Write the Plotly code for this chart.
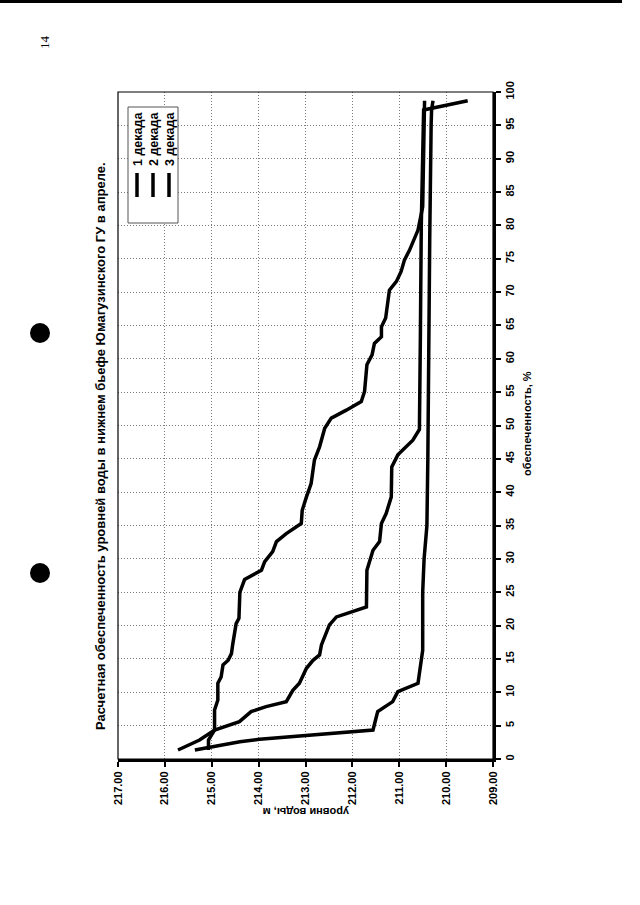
import plotly.graph_objects as go

# ---- data ----
series_names = ["1 декада", "2 декада", "3 декада"]

p_dek1 = [1.35, 2.85, 4.35, 7.35, 8.85, 11.35, 12.3, 14.1, 14.8, 15.8, 17.3, 18.8, 20.3, 21.1, 23.8,
          25.0, 26.9, 28.3, 29.6, 31.1, 32.6, 33.8, 35.3, 37.3, 39.3, 41.3, 44.8, 46.8, 49.6, 51.1,
          52.3, 53.6, 55.1, 59.1, 60.6, 62.3, 63.3, 64.8, 66.1, 70.3, 71.6, 73.1, 74.8, 76.3, 79.3,
          81.8, 82.8, 98.7]
lvl_dek1 = [215.07, 215.07, 214.94, 214.94, 214.87, 214.87, 214.80, 214.76, 214.65, 214.58, 214.55,
            214.51, 214.48, 214.42, 214.40, 214.40, 214.30, 213.94, 213.87, 213.70, 213.62, 213.41,
            213.09, 213.07, 212.98, 212.88, 212.81, 212.70, 212.59, 212.45, 212.13, 211.81, 211.74,
            211.69, 211.58, 211.53, 211.38, 211.38, 211.29, 211.21, 211.06, 210.96, 210.89, 210.78,
            210.60, 210.53, 210.50, 210.46]

p_dek2 = [1.35, 2.85, 4.35, 5.6, 7.1, 7.85, 8.6, 10.3, 11.35, 13.6, 14.8, 15.6, 17.1, 20.1, 21.3,
          22.1, 22.6, 22.8, 28.3, 30.3, 31.3, 32.6, 35.3, 36.8, 39.3, 43.8, 45.6, 47.8, 49.4, 62.8,
          80.0, 97.3, 98.7]
lvl_dek2 = [215.72, 215.26, 214.94, 214.41, 214.16, 213.84, 213.41, 213.27, 213.13, 212.98, 212.84,
            212.70, 212.66, 212.49, 212.34, 211.99, 211.74, 211.70, 211.69, 211.60, 211.56, 211.42,
            211.38, 211.28, 211.17, 211.16, 211.03, 210.71, 210.57, 210.55, 210.53, 210.48, 209.54]

p_dek3 = [1.35, 2.6, 2.95, 4.35, 7.1, 8.6, 10.1, 11.35, 16.3, 25.0, 30.0, 35.0, 45.0, 60.0, 77.8,
          95.0, 97.3, 98.7]
lvl_dek3 = [215.36, 214.40, 213.98, 211.56, 211.46, 211.14, 211.03, 210.60, 210.50, 210.50, 210.47,
            210.41, 210.39, 210.38, 210.35, 210.32, 210.31, 210.28]

level_ticks = [209, 210, 211, 212, 213, 214, 215, 216, 217]
level_ticktext = ["209.00", "210.00", "211.00", "212.00", "213.00", "214.00", "215.00", "216.00", "217.00"]
prob_ticks = list(range(0, 101, 5))

title_text = "Расчетная обеспеченность уровней воды в нижнем бьефе Юмагузинского ГУ в апреле."
x_title = "уровни воды, м"
y_title = "обеспеченность, %"
page_no = "14"

# ---- figure ----
W, H = 640, 905
L, R, T, B = 118, 493, 92, 759


def px(x):
    return (x - L) / (R - L)


def py(y):
    return (B - y) / (B - T)


fig = go.Figure()
for name, lv, pr in [(series_names[0], lvl_dek1, p_dek1),
                     (series_names[1], lvl_dek2, p_dek2),
                     (series_names[2], lvl_dek3, p_dek3)]:
    fig.add_trace(go.Scatter(x=lv, y=pr, mode="lines", name=name,
                             line=dict(color="black", width=3.5)))

FAM = "Liberation Sans, Arial, sans-serif"
bold = dict(family=FAM, size=11, color="black", weight="bold")

fig.update_layout(
    width=W, height=H,
    margin=dict(l=L, r=W - R, t=T, b=H - B, pad=0),
    paper_bgcolor="white", plot_bgcolor="white",
    showlegend=False,
    font=dict(family=FAM, color="black"),
)
grid = dict(showgrid=True, gridcolor="#7a7a7a", griddash="1px,2px", gridwidth=1, zeroline=False)
fig.update_xaxes(range=[217, 209], tickvals=level_ticks, ticktext=level_ticktext,
                 tickangle=-90, tickfont=bold,
                 ticks="outside", ticklen=5, tickwidth=2, tickcolor="black",
                 showline=True, linewidth=3, linecolor="black", **grid)
fig.update_yaxes(range=[0, 100], tickvals=prob_ticks, side="right",
                 tickangle=-90, tickfont=bold,
                 ticks="outside", ticklen=5, tickwidth=2, tickcolor="black",
                 showline=True, linewidth=3, linecolor="black", **grid)

shapes = []
# plot frame (thin top/left)
shapes.append(dict(type="rect", xref="paper", yref="paper", x0=0, x1=1, y0=0, y1=1,
                   line=dict(color="black", width=1.2), layer="above"))
# legend box
shapes.append(dict(type="rect", xref="paper", yref="paper", x0=px(128), x1=px(178),
                   y0=py(223), y1=py(107), line=dict(color="#555", width=1),
                   fillcolor="white", layer="above"))
leg_x = [137, 153, 169]
for lx in leg_x:
    shapes.append(dict(type="line", xref="paper", yref="paper", x0=px(lx), x1=px(lx),
                       y0=py(197), y1=py(173), line=dict(color="black", width=3.5), layer="above"))
# punch holes
for cy in [333, 573]:
    shapes.append(dict(type="circle", xref="paper", yref="paper", x0=px(30), x1=px(50),
                       y0=py(cy + 10), y1=py(cy - 10), fillcolor="black",
                       line=dict(color="black", width=0)))
# scan edge at top of page
shapes.append(dict(type="rect", xref="paper", yref="paper", x0=px(0), x1=px(622),
                   y0=py(3), y1=py(0), fillcolor="black", line=dict(width=0), layer="above"))
fig.update_layout(shapes=shapes)

ann = []
for lx, name in zip(leg_x, series_names):
    ann.append(dict(text=name, xref="paper", yref="paper", x=px(lx + 1), y=py(168),
                    xanchor="center", yanchor="bottom", textangle=-90, showarrow=False,
                    font=dict(family=FAM, size=12.5, color="black", weight="bold")))
ann.append(dict(text=title_text, xref="paper", yref="paper", x=px(100), y=py(446),
                xanchor="center", yanchor="middle", textangle=-90, showarrow=False,
                font=dict(family=FAM, size=13, color="black", weight="bold")))
ann.append(dict(text=x_title, xref="paper", yref="paper", x=px(306), y=py(812),
                xanchor="center", yanchor="middle", textangle=180, showarrow=False,
                font=bold))
ann.append(dict(text=y_title, xref="paper", yref="paper", x=px(527), y=py(424),
                xanchor="center", yanchor="middle", textangle=-90, showarrow=False,
                font=bold))
ann.append(dict(text=page_no, xref="paper", yref="paper", x=px(45), y=py(42),
                xanchor="center", yanchor="middle", textangle=-90, showarrow=False,
                font=dict(family="Liberation Serif, Times New Roman, serif", size=13, color="black")))
fig.update_layout(annotations=ann)

fig.write_html("out.html", config={"displayModeBar": False},
               post_script="document.body.style.margin='0';document.body.style.overflow='hidden';")
